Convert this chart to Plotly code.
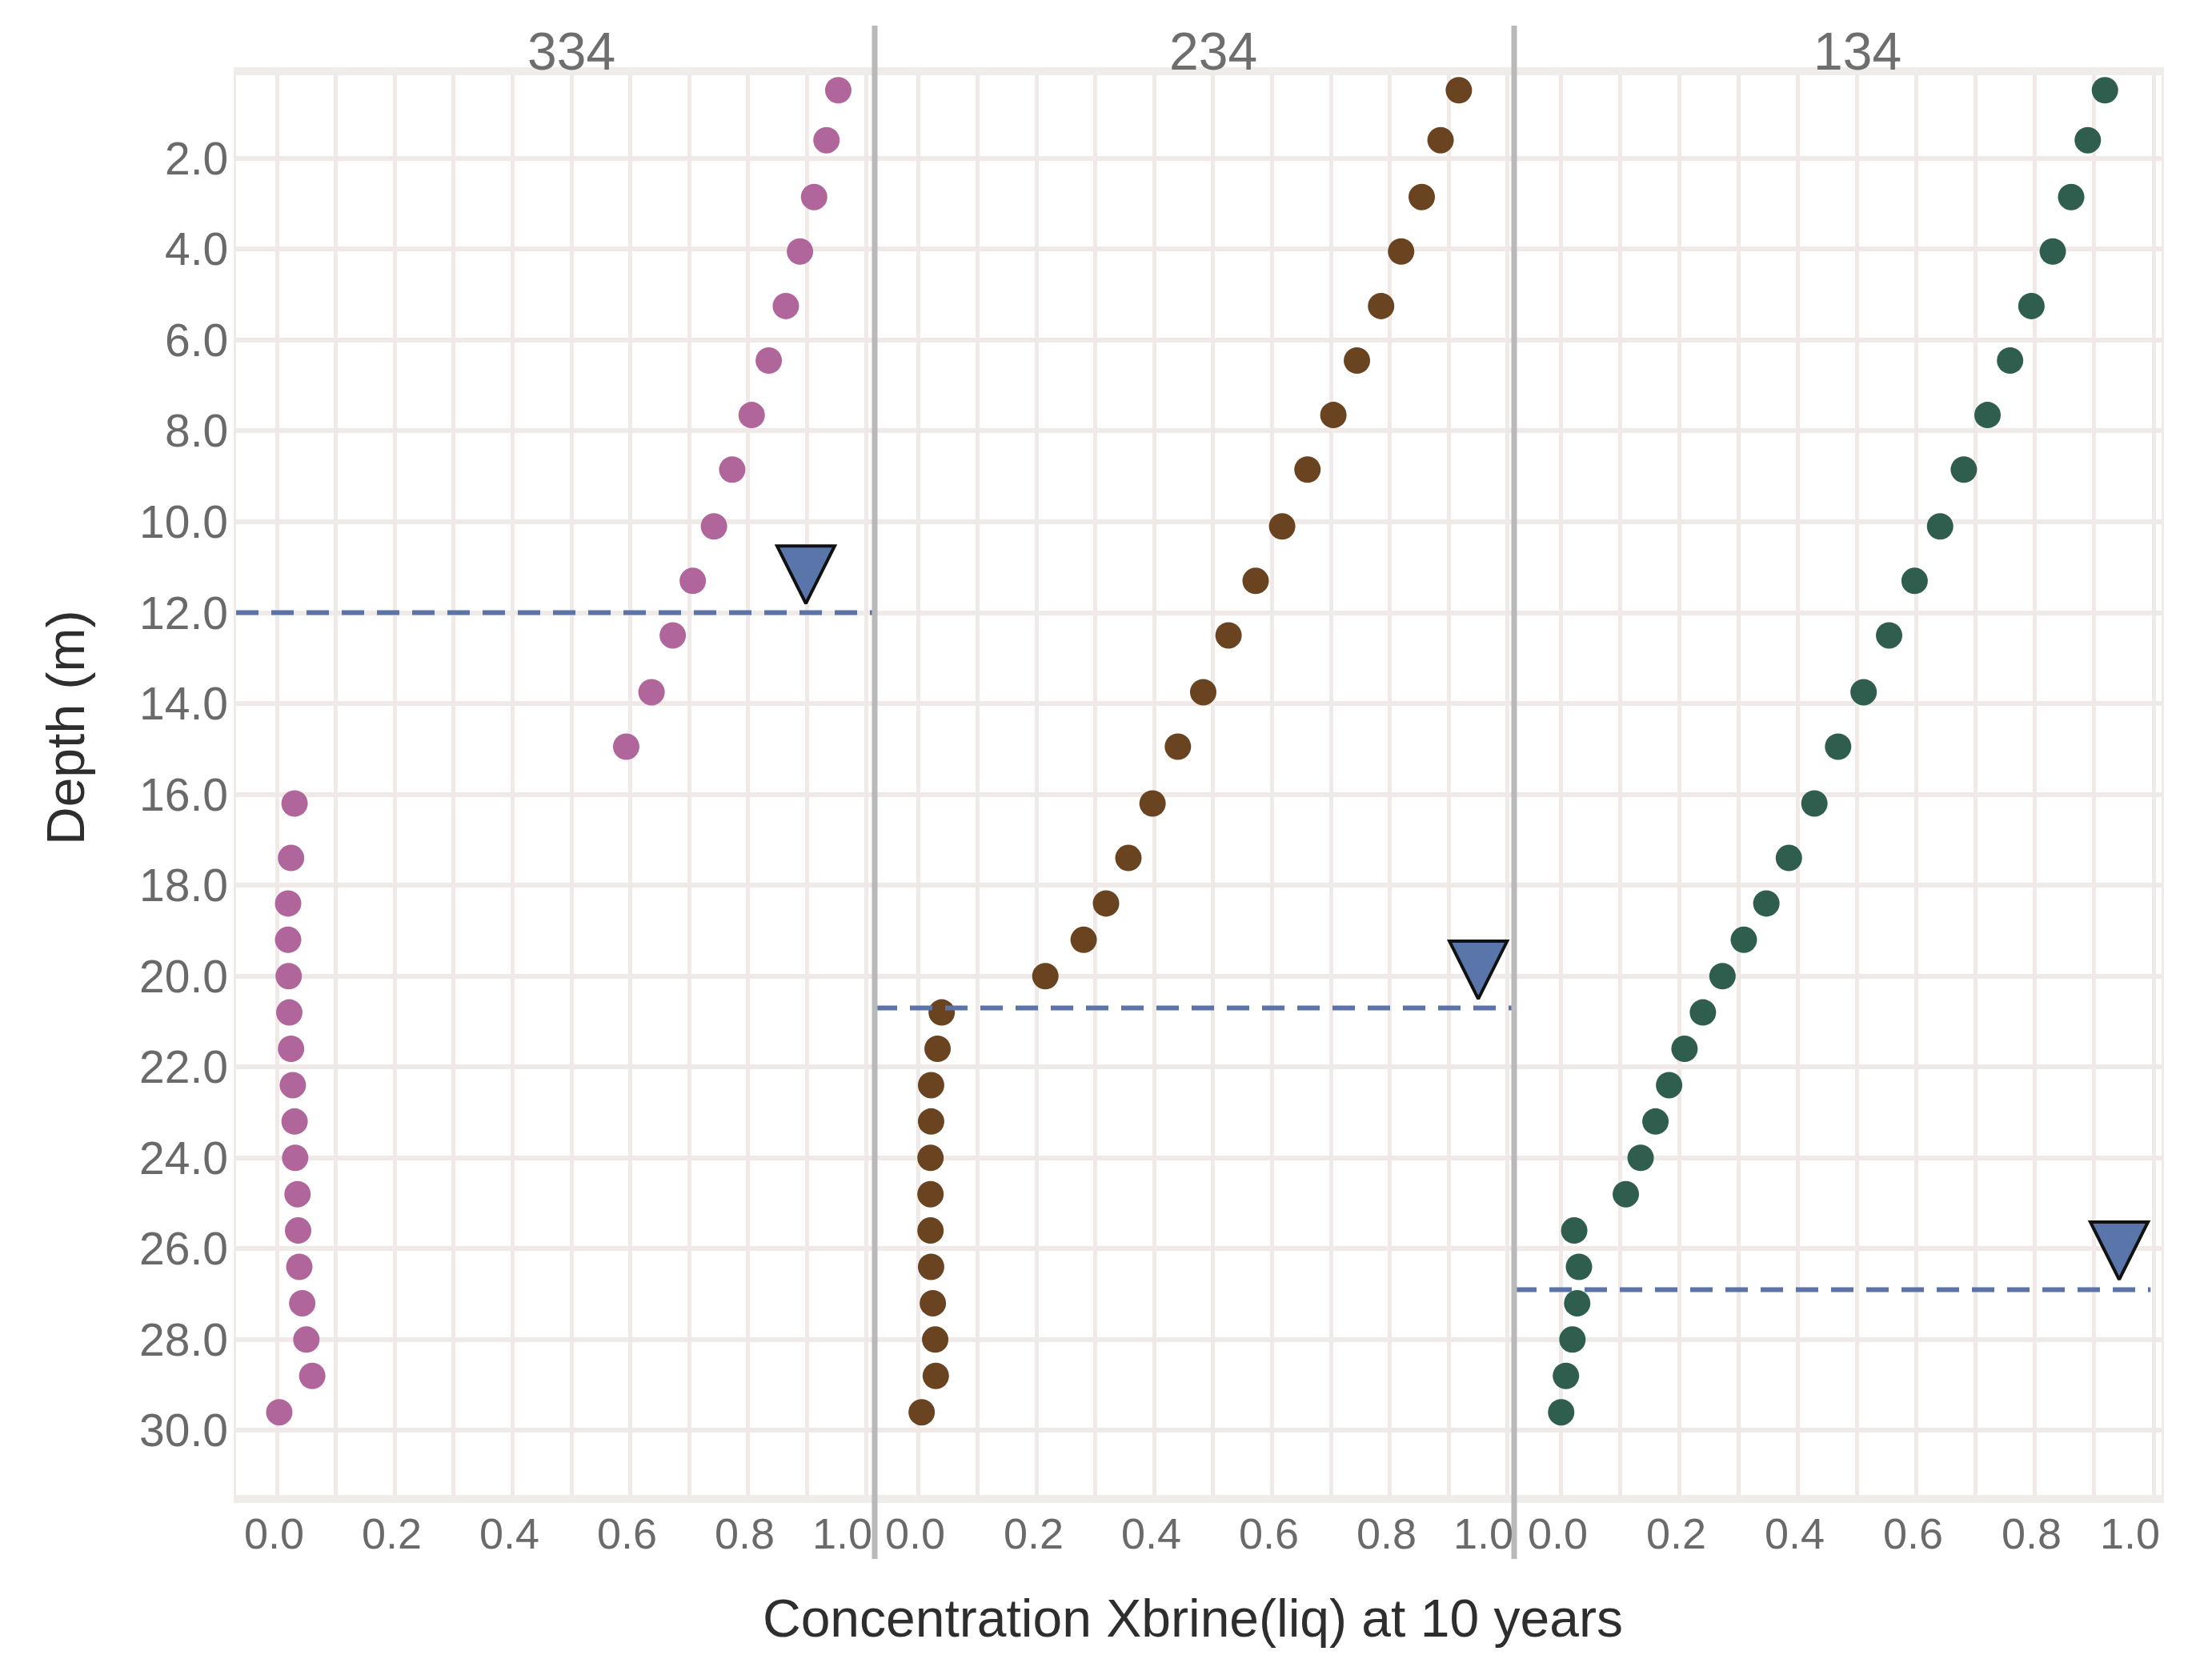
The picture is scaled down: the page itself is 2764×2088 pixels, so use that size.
import plotly.graph_objects as go
from plotly.subplots import make_subplots

# ---------------- data ----------------
panels = ["334", "234", "134"]

depth = [0.5, 1.6, 2.85, 4.05, 5.25, 6.45, 7.65, 8.85, 10.1, 11.3, 12.5, 13.75, 14.95,
         16.2, 17.4, 18.4, 19.2, 20.0, 20.8, 21.6, 22.4, 23.2, 24.0, 24.8, 25.6, 26.4,
         27.2, 28.0, 28.8, 29.6]

conc_334 = [0.953, 0.933, 0.912, 0.888, 0.864, 0.835, 0.806, 0.773, 0.742, 0.706, 0.672,
            0.636, 0.593,
            0.030, 0.024, 0.019, 0.019, 0.020, 0.021, 0.024, 0.027, 0.030, 0.031, 0.035,
            0.036, 0.038, 0.043, 0.050, 0.060, 0.004]

conc_234 = [0.917, 0.886, 0.854, 0.819, 0.785, 0.744, 0.704, 0.660, 0.617, 0.572, 0.526,
            0.483, 0.440, 0.397, 0.356, 0.318, 0.280, 0.215,
            0.039, 0.032, 0.021, 0.021, 0.020, 0.020, 0.020, 0.021, 0.024, 0.028, 0.029,
            0.005]

conc_134 = [0.918, 0.889, 0.861, 0.830, 0.794, 0.758, 0.720, 0.680, 0.640, 0.597, 0.554,
            0.511, 0.468, 0.428, 0.385, 0.347, 0.309, 0.273, 0.240, 0.209, 0.183, 0.160,
            0.135, 0.110,
            0.023, 0.031, 0.028, 0.020, 0.009, 0.001]

colors = ["#b0669a", "#6a4421", "#2f5e4e"]

# interface depth (dashed line) and marker (triangle tip) per panel
interface_depth = [12.0, 20.7, 26.9]
tri_x = [0.898, 0.950, 0.942]
tri_depth = [11.8, 20.5, 26.68]

x_tickvals = [0.0, 0.2, 0.4, 0.6, 0.8, 1.0]
x_ticktext = ["0.0", "0.2", "0.4", "0.6", "0.8", "1.0"]
y_tickvals = [2, 4, 6, 8, 10, 12, 14, 16, 18, 20, 22, 24, 26, 28, 30]
y_ticktext = ["%.1f" % v for v in y_tickvals]

x_title = "Concentration Xbrine(liq) at 10 years"
y_title = "Depth (m)"

# ---------------- layout geometry (pixels) ----------------
W, H = 2764, 2088
OFF = 8                       # default body margin of the html page
PL, PR, PT, PB = 295, 2701, 94, 1868   # plot area in screenshot pixels
PW, PH = PR - PL, PB - PT
edges = [295, 1093, 1892, 2701]
domains = [[(edges[i] - PL) / PW, (edges[i + 1] - PL) / PW] for i in range(3)]
x_ranges = [[-0.0693, 1.0149], [-0.0747, 1.0109], [-0.0783, 1.0135]]


def px(X):
    return (X - PL) / PW


def py(Y):
    return (PB - Y) / PH


FONT = "Liberation Sans, Arial, Helvetica, sans-serif"
GRID = "#efeae7"
TICKC = "#6a6a6a"

fig = make_subplots(rows=1, cols=3, shared_yaxes=True, horizontal_spacing=0)

series = [conc_334, conc_234, conc_134]
for i, vals in enumerate(series):
    fig.add_trace(go.Scatter(
        x=vals, y=depth, mode="markers",
        marker=dict(size=33, color=colors[i], line=dict(width=0)),
        showlegend=False, hoverinfo="skip"), row=1, col=i + 1)
    fig.add_trace(go.Scatter(
        x=[tri_x[i]], y=[tri_depth[i]], mode="markers",
        marker=dict(symbol="arrow-down", size=72, color="#5a75aa",
                    line=dict(width=4, color="#111111")),
        showlegend=False, hoverinfo="skip"), row=1, col=i + 1)

for i in range(3):
    xa = "x" if i == 0 else "x%d" % (i + 1)
    ya = "y" if i == 0 else "y%d" % (i + 1)
    # dashed interface line
    fig.add_shape(type="line", xref=xa + " domain", yref=ya,
                  x0=0, x1=1 if i < 2 else 0.983,
                  y0=interface_depth[i], y1=interface_depth[i],
                  line=dict(color="#5a73a8", width=6, dash="28px,16px"),
                  layer="above")
    # panel title
    fig.add_annotation(text=panels[i], xref=xa, yref="paper", x=0.5,
                       y=py(64), yanchor="middle", xanchor="center",
                       showarrow=False, font=dict(family=FONT, size=66, color="#6e6e6e"))
    # x tick labels (the last one is pulled inward, as in the reference)
    for v, t in zip(x_tickvals, x_ticktext):
        fig.add_annotation(text=t, xref=xa, yref="paper", x=v, y=py(1916),
                           xshift=-30 if v == 1.0 else -4,
                           xanchor="center", yanchor="middle", showarrow=False,
                           font=dict(family=FONT, size=54, color=TICKC))

# y tick labels
for v, t in zip(y_tickvals, y_ticktext):
    fig.add_annotation(text=t, xref="paper", yref="y", x=px(287), y=v,
                       xanchor="right", yanchor="middle", showarrow=False,
                       font=dict(family=FONT, size=57, color=TICKC))

for i in range(1, 4):
    fig.update_xaxes(
        row=1, col=i, domain=domains[i - 1],
        range=x_ranges[i - 1], tickmode="array", tickvals=x_tickvals,
        showticklabels=False,
        showgrid=True, gridcolor=GRID, gridwidth=5,
        minor=dict(dtick=0.1, tick0=0, showgrid=True, gridcolor=GRID, gridwidth=5),
        zeroline=False, showline=True, mirror=True, linecolor="#f0ece9", linewidth=10,
        ticks="",
    )
    fig.update_yaxes(
        row=1, col=i,
        range=[31.42, 0.17], tickmode="array", tickvals=y_tickvals,
        showticklabels=False,
        showgrid=True, gridcolor=GRID, gridwidth=6,
        zeroline=False, showline=True, mirror=True, linecolor="#efebe8", linewidth=3,
        ticks="",
    )

# panel separators
for xe in edges[1:3]:
    fig.add_shape(type="line", xref="paper", yref="paper", x0=px(xe), x1=px(xe),
                  y0=py(1948), y1=py(32),
                  line=dict(color="#b9b9b9", width=7), layer="above")

# axis titles
fig.add_annotation(text=x_title, xref="paper", yref="paper",
                   x=px(1490), y=py(2022),
                   xanchor="center", yanchor="middle", showarrow=False,
                   font=dict(family=FONT, size=66, color="#2e2e2e"))
fig.add_annotation(text=y_title, xref="paper", yref="paper",
                   x=px(82), y=py(910), textangle=-90,
                   xanchor="center", yanchor="middle", showarrow=False,
                   font=dict(family=FONT, size=66, color="#2e2e2e"))

fig.update_layout(
    width=W, height=H,
    margin=dict(l=PL - OFF, r=W - PR + OFF, t=PT - OFF, b=H - PB + OFF, pad=0),
    paper_bgcolor="white", plot_bgcolor="white",
    showlegend=False,
    font=dict(family=FONT),
)

fig.write_html("out.html")
